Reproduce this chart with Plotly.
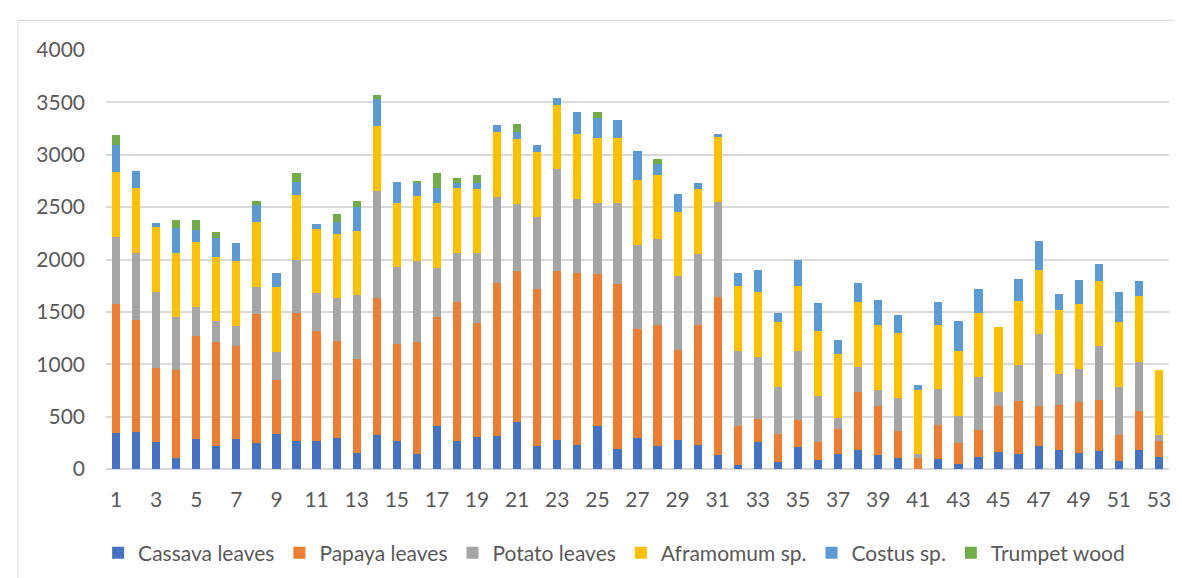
import plotly.graph_objects as go

categories = [str(i) for i in range(1, 54)]

cassava = [343, 349, 261, 107, 286, 223, 286, 252, 333, 264, 264, 296, 154, 327, 267, 145, 409, 264,
           305, 314, 447, 220, 274, 226, 409, 189, 296, 220, 277, 233, 135, 41, 261, 69, 214, 88,
           145, 186, 138, 101, 0, 91, 50, 119, 167, 148, 220, 186, 151, 173, 79, 186, 113]
papaya = [1236, 1072, 708, 836, 981, 988, 890, 1232, 519, 1230, 1054, 930, 896, 1305, 925, 1066, 1038, 1333,
          1091, 1463, 1440, 1503, 1613, 1645, 1456, 1578, 1037, 1151, 858, 1138, 1503, 374, 217, 264, 255, 170,
          239, 547, 463, 264, 107, 327, 202, 258, 437, 500, 384, 427, 491, 487, 242, 367, 157]
potato = [638, 642, 723, 504, 277, 198, 192, 258, 267, 506, 358, 409, 607, 1025, 739, 776, 471, 463,
          664, 824, 645, 686, 975, 711, 676, 774, 809, 821, 705, 682, 912, 711, 591, 453, 660, 443,
          107, 245, 151, 314, 38, 346, 254, 497, 132, 343, 682, 290, 317, 516, 462, 469, 54]
aframomum = [619, 619, 619, 613, 620, 613, 613, 616, 620, 616, 613, 613, 617, 620, 613, 617, 617, 619,
             616, 619, 616, 613, 613, 616, 616, 616, 613, 619, 613, 617, 620, 619, 620, 617, 616, 617,
             610, 613, 619, 620, 613, 613, 620, 613, 616, 616, 613, 616, 617, 616, 616, 629, 619]
costus = [261, 167, 38, 239, 113, 186, 173, 158, 135, 123, 54, 110, 232, 251, 195, 126, 151, 47,
          54, 66, 72, 72, 63, 208, 198, 176, 283, 98, 170, 60, 31, 126, 214, 88, 255, 270,
          129, 183, 239, 173, 41, 221, 289, 227, 0, 204, 274, 151, 229, 161, 293, 145, 0]
trumpet = [89, 0, 0, 75, 100, 53, 0, 47, 0, 88, 0, 79, 51, 41, 0, 22, 138, 48,
           78, 0, 73, 0, 0, 0, 51, 0, 0, 50, 0, 0, 0, 0, 0, 0, 0, 0,
           0, 0, 0, 0, 0, 0, 0, 0, 0, 0, 0, 0, 0, 0, 0, 0, 0]

series_names = ["Cassava leaves", "Papaya leaves", "Potato leaves", "Aframomum sp.", "Costus sp.", "Trumpet wood"]
series_values = [cassava, papaya, potato, aframomum, costus, trumpet]
colors = ["#4472C4", "#ED7D31", "#A5A5A5", "#FFC000", "#5B9BD5", "#70AD47"]

tick_labels = [str(i) for i in range(1, 54, 2)]
y_ticks = list(range(0, 4001, 500))

FONT = "Lato"
TXT = "#595959"

fig = go.Figure()
for name, vals, col in zip(series_names, series_values, colors):
    fig.add_trace(go.Bar(x=categories, y=vals, name=name, marker=dict(color=col, line=dict(width=0))))

fig.update_layout(
    barmode="stack",
    bargap=0.59,
    width=1182,
    height=578,
    margin=dict(l=98, r=21, t=42, b=113),
    paper_bgcolor="white",
    plot_bgcolor="white",
    font=dict(family=FONT, size=21, color=TXT),
    legend=dict(orientation="h", x=0.478, xanchor="center", y=-0.201, yanchor="middle",
                font=dict(family=FONT, size=21, color=TXT), traceorder="normal"),
    xaxis=dict(type="category", tickmode="array", tickvals=tick_labels, ticktext=tick_labels,
               showgrid=False, showline=False, ticks="", ticklabelstandoff=16,
               tickfont=dict(family=FONT, size=21, color=TXT)),
    yaxis=dict(range=[0, 4000], tickmode="array", tickvals=y_ticks, showgrid=True,
               gridcolor="#d9d9d9", gridwidth=1.5, zeroline=True, zerolinecolor="#d9d9d9",
               zerolinewidth=1.5, showline=False, ticks="", ticklabelstandoff=20,
               tickfont=dict(family=FONT, size=21, color=TXT)),
    shapes=[dict(type="rect", xref="paper", yref="paper", x0=-0.0828, x1=1.2, y0=-0.5, y1=1.0709,
                 line=dict(color="#d9d9d9", width=1), fillcolor="rgba(0,0,0,0)", layer="below")],
)

fig.write_html("out.html")
